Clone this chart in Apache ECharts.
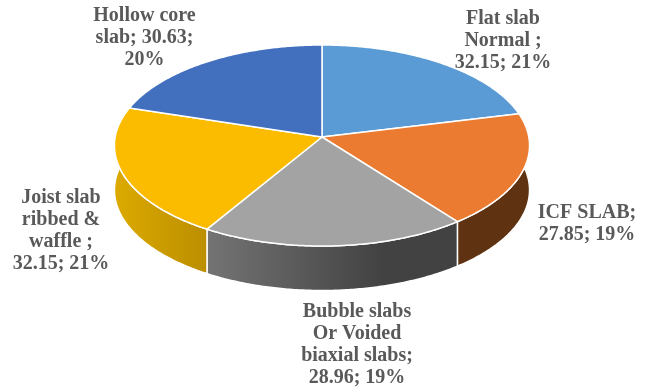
<!DOCTYPE html>
<html>
<head>
<meta charset="utf-8">
<style>html,body{margin:0;padding:0;background:#fff}#c{width:649px;height:389px}</style>
<script src="https://cdn.jsdelivr.net/npm/echarts@6/dist/echarts.min.js"></script>
</head>
<body>
<div id="c"></div>
<script>
var categories = ["Flat slab Normal", "ICF SLAB", "Bubble slabs Or Voided biaxial slabs", "Joist slab ribbed & waffle", "Hollow core slab"];
var values = [32.15, 27.85, 28.96, 32.15, 30.63];
var percents = [21, 19, 19, 21, 20];
var labelTemplates = [
  "Flat slab\nNormal ;\n{v}; {p}%",
  "ICF SLAB;\n{v}; {p}%",
  "Bubble slabs\nOr Voided\nbiaxial slabs;\n{v}; {p}%",
  "Joist slab\nribbed &\nwaffle ;\n{v}; {p}%",
  "Hollow core\nslab; {v};\n{p}%"
];
var topColors = ["#5B9BD5", "#EB7B30", "#A3A3A3", "#FBBC00", "#4270BF"];
var wallColors = [
  [[0,"#3f6c95"],[1,"#3f6c95"]],
  [[0,"#5f3212"],[1,"#5f3212"]],
  [[0,"#747474"],[0.7,"#424242"],[1,"#424242"]],
  [[0,"#dcaa00"],[1,"#bb8e00"]],
  [[0,"#2f4f88"],[1,"#2f4f88"]]
];
var labelAnchors = [[503,41],[587,223.5],[357,345],[61,230.5],[144.5,38]];

/* projected tilted disc */
var geo = {cx:322, cy:137, A:206.8, B:99.8, k:0.0846, depth:44.5};
var total = values.reduce(function(a,b){return a+b;},0);
function startAngle(i){
  var s=0; for(var j=0;j<i;j++) s+=values[j];
  return s/total*Math.PI*2;
}
function project(theta,dy){
  var u=Math.sin(theta), v=Math.cos(theta), w=1+geo.k*v;
  return [geo.cx+geo.A*u/w, geo.cy-geo.B*v/w+(dy||0)];
}
function arcPoints(a,b,dy){
  var n=Math.max(2,Math.ceil((b-a)/0.01)), pts=[];
  for(var i=0;i<=n;i++) pts.push(project(a+(b-a)*i/n,dy));
  return pts;
}
function wallItem(params){
  var i=params.dataIndex, a=startAngle(i), b=a+values[i]/total*Math.PI*2;
  var pts=arcPoints(a,b,0).concat(arcPoints(a,b,geo.depth).reverse());
  var stops=wallColors[i].map(function(s){return {offset:s[0],color:s[1]};});
  return {type:'polygon',shape:{points:pts},style:{
    fill:new echarts.graphic.LinearGradient(0,0,1,0,stops),
    stroke:'#fff',lineWidth:1.5,lineJoin:'round'}};
}
function topItem(params){
  var i=params.dataIndex, a=startAngle(i), b=a+values[i]/total*Math.PI*2;
  var pts=[[geo.cx,geo.cy]].concat(arcPoints(a,b,0));
  return {type:'group',children:[
    {type:'polygon',shape:{points:pts},style:{fill:topColors[i],stroke:'#fff',lineWidth:1.5,lineJoin:'round'}},
    {type:'text',z2:10,style:{
      x:labelAnchors[i][0],y:labelAnchors[i][1],
      text:labelTemplates[i].replace('{v}',values[i].toFixed(2)).replace('{p}',percents[i]),
      align:'center',verticalAlign:'middle',fill:'#595959',
      font:'bold 20px "Liberation Serif"',lineHeight:22}}
  ]};
}
var chart=echarts.init(document.getElementById('c'),null,{renderer:'canvas'});
var seriesData=categories.map(function(n,i){return {name:n,value:values[i]};});
chart.setOption({
  animation:false,
  backgroundColor:'#fff',
  series:[
    {type:'custom',coordinateSystem:'none',renderItem:wallItem,data:seriesData,silent:true},
    {type:'custom',coordinateSystem:'none',renderItem:topItem,data:seriesData,silent:true}
  ]
});
</script>
</body>
</html>
